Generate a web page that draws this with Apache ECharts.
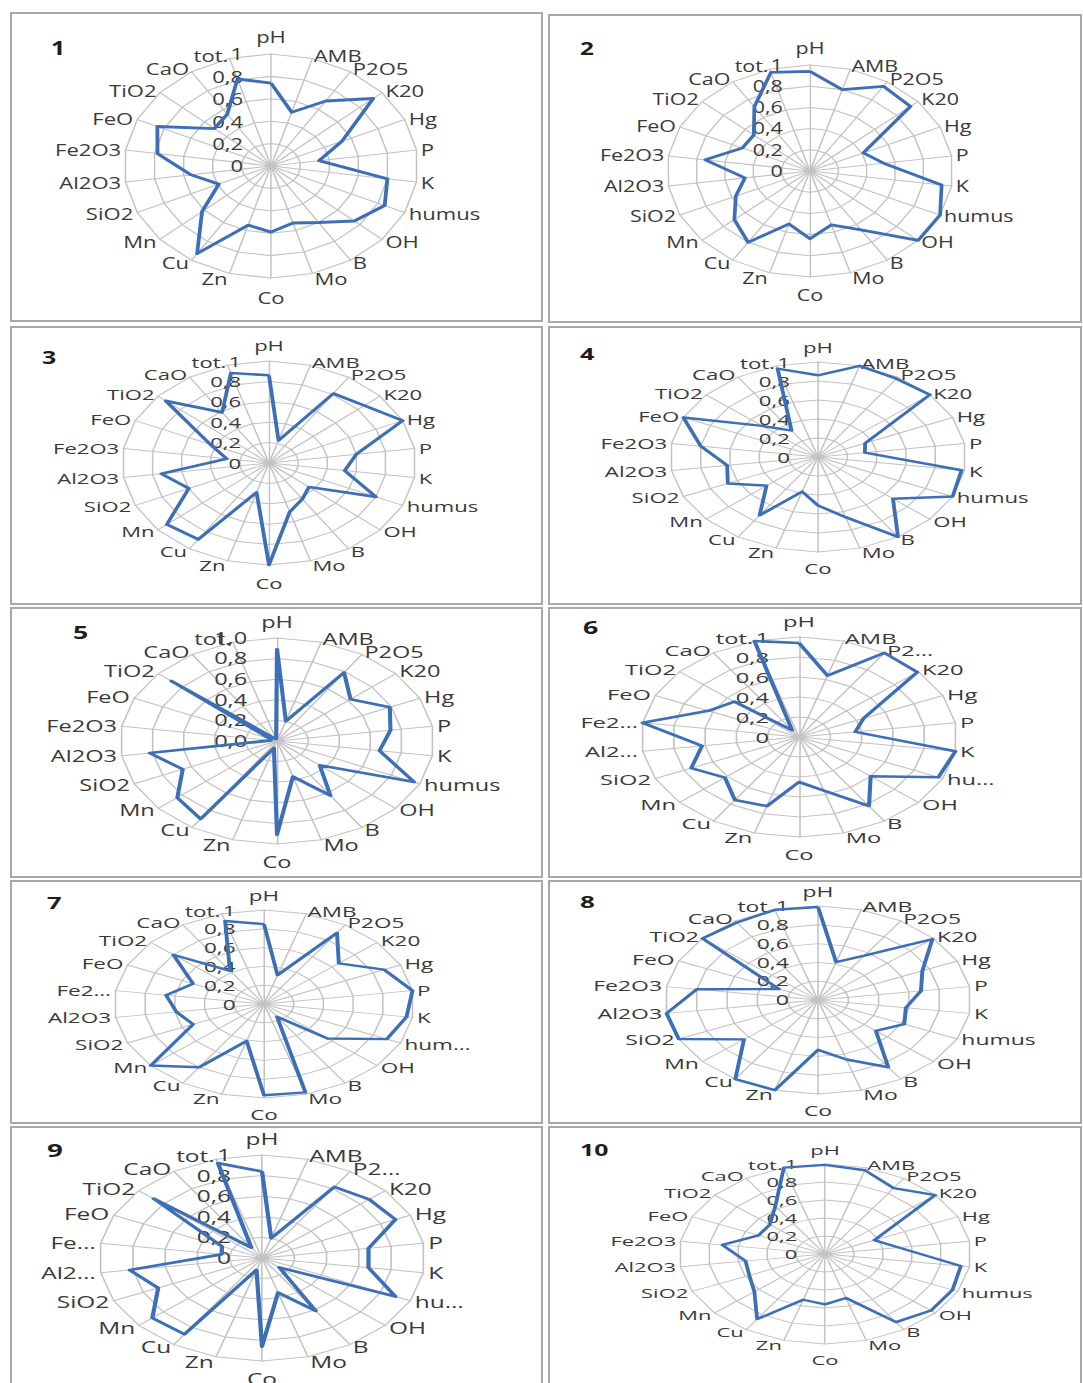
<!DOCTYPE html>
<html><head><meta charset="utf-8">
<script src="https://cdn.jsdelivr.net/npm/echarts@6/dist/echarts.min.js"></script>
<style>
html,body{margin:0;padding:0;background:#fff;width:1083px;height:1383px;overflow:hidden;}
.cell{position:absolute;box-sizing:border-box;border:2px solid #a8a8a8;pointer-events:none;z-index:5;}
.chart{position:absolute;transform-origin:0 0;}
</style></head><body>
<script>
// Categories, clockwise from the top
const categories = ['pH','AMB','P2O5','K20','Hg','P','K','humus','OH','B','Mo','Co','Zn','Cu','Mn','SiO2','Al2O3','Fe2O3','FeO','TiO2','CaO','tot.'];

// Series values (same order as categories)
const values1  = [0.74,0.50,0.69,0.92,0.53,0.33,0.80,0.85,0.75,0.60,0.53,0.59,0.55,0.93,0.62,0.39,0.55,0.78,0.85,0.51,0.55,0.81];
const values2  = [0.94,0.80,0.95,0.93,0.41,0.52,0.93,1.00,1.00,0.66,0.53,0.64,0.52,0.80,0.70,0.57,0.46,0.74,0.52,0.52,0.72,0.97];
const values3  = [0.86,0.23,0.81,0.86,1.00,0.60,0.52,0.80,0.36,0.42,0.50,1.00,0.30,0.89,0.92,0.60,0.74,0.29,0.44,0.93,0.59,0.92];
const values4  = [0.86,1.00,0.98,1.00,0.35,0.32,0.98,1.00,0.67,1.00,0.66,0.51,0.38,0.73,0.46,0.67,0.62,0.80,1.00,0.50,0.33,0.97];
const values5  = [0.90,0.20,0.79,0.62,0.79,0.73,0.66,0.96,0.36,0.63,0.36,0.91,0.07,0.90,0.84,0.66,0.82,0.04,0.05,0.89,0.03,0.02];
const values6  = [0.94,0.64,1.00,0.99,0.45,0.36,1.00,0.97,0.60,0.82,0.56,0.45,0.72,0.75,0.62,0.75,0.62,1.00,0.63,0.54,0.08,1.00];
const values7  = [0.85,0.32,0.90,0.66,0.88,1.00,0.96,0.90,0.56,0.16,0.98,0.97,0.41,0.80,1.00,0.52,0.59,0.66,0.52,0.80,0.42,0.92];
const values8  = [0.99,0.42,0.56,0.99,0.75,0.68,0.58,0.62,0.50,0.85,0.66,0.53,1.00,1.00,0.64,1.00,1.00,0.80,0.28,1.00,0.98,1.00];
const values9  = [0.84,0.20,0.82,0.87,0.90,0.66,0.66,0.90,0.14,0.61,0.35,0.86,0.12,0.88,0.89,0.70,0.82,0.25,0.27,0.88,0.12,0.96];
const values10 = [0.99,0.97,0.87,1.00,0.37,0.51,0.94,0.96,0.96,0.90,0.51,0.56,0.53,0.86,0.64,0.57,0.55,0.71,0.50,0.50,0.63,1.00];

const chartTitles = ['1','2','3','4','5','6','7','8','9','10'];
const allValues = [values1,values2,values3,values4,values5,values6,values7,values8,values9,values10];

// Tick labels along the first axis
const tickLabels = ['0','0,2','0,4','0,6','0,8','1'];
const tickLabelsOneDecimal = ['0,0','0,2','0,4','0,6','0,8','1,0'];

// Truncated category names in some panels
const labelOverrides = {
  6: {P2O5:'P2…', humus:'hu…', Fe2O3:'Fe2…', Al2O3:'Al2…'},
  7: {humus:'hum…', Fe2O3:'Fe2…'},
  9: {P2O5:'P2…', humus:'hu…', Fe2O3:'Fe…', Al2O3:'Al2…'}
};

// Layout (page pixels): cell box, radar centre, radii of the (stretched) radar, panel number position
const layouts = [
  {cell:[10,12,533,310],  c:[271,166],  rx:147, ry:112, num:[51,42]},
  {cell:[548,14,534,309], c:[810,171],  rx:143, ry:106, num:[580,42]},
  {cell:[10,326,533,279], c:[269,463],  rx:147, ry:102, num:[42,352]},
  {cell:[548,326,534,279],c:[818,457],  rx:148, ry:95,  num:[580,348]},
  {cell:[10,607,533,271], c:[277,741],  rx:157, ry:103, num:[73,627]},
  {cell:[548,607,534,271],c:[799,737],  rx:158, ry:100, num:[583,622]},
  {cell:[10,880,533,244], c:[264,1004], rx:150, ry:94,  num:[47,897]},
  {cell:[548,880,534,244],c:[818,1000], rx:153, ry:94,  num:[580,897]},
  {cell:[10,1126,533,262],c:[262,1258], rx:163, ry:103, num:[47,1145]},
  {cell:[548,1126,534,262],c:[825,1254],rx:146, ry:90,  num:[580,1145]}
];

const R = 100;
const FONT = 'Open Sans';
// ECharts places radar indicators counter-clockwise; Excel goes clockwise.
const order = [0]; for (let i = categories.length - 1; i >= 1; i--) order.push(i);

layouts.forEach((L, k) => {
  const [x, y, w, h] = L.cell;
  const sx = L.rx / R, sy = L.ry / R;
  const border = document.createElement('div');
  border.className = 'cell';
  Object.assign(border.style, {left: x+'px', top: y+'px', width: w+'px', height: h+'px'});
  document.body.appendChild(border);

  const div = document.createElement('div');
  div.className = 'chart';
  const W = w / sx, H = h / sy;
  Object.assign(div.style, {left: x+'px', top: y+'px', width: W+'px', height: H+'px',
    transform: 'scale(' + sx + ',' + sy + ')'});
  document.body.appendChild(div);

  const ov = labelOverrides[k+1] || {};
  const ticks = (k === 4) ? tickLabelsOneDecimal : tickLabels;
  const indicator = order.map(i => {
    const gap = i === 0 ? 8 : (i === 11 ? 10 : ((i === 10 || i === 12) ? 5 : 3));
    return {
      name: ov[categories[i]] || categories[i],
      min: 0, max: 1,
      nameGap: gap,
      axisLabel: {show: i === 0}
    };
  });
  const vals = allValues[k];
  const chart = echarts.init(div, null, {renderer: 'svg', width: W, height: H});
  chart.setOption({
    animation: false,
    textStyle: {fontFamily: FONT},
    title: {
      text: chartTitles[k],
      padding: 0,
      left: (L.num[0] - x) / sx,
      top: (L.num[1] - y) / sy - 3,
      textStyle: {fontSize: 17, fontWeight: 'bold', color: '#1e1e1e', fontFamily: FONT}
    },
    radar: {
      center: [(L.c[0] - x) / sx, (L.c[1] - y) / sy],
      radius: R,
      startAngle: 90,
      splitNumber: 5,
      shape: 'polygon',
      indicator: indicator,
      axisName: {color: '#3a3a3a', fontSize: 15, fontFamily: FONT},
      axisLine: {lineStyle: {color: '#c2c2c2', width: 1}},
      splitLine: {lineStyle: {color: '#c2c2c2', width: 1}},
      splitArea: {show: false},
      axisTick: {show: false},
      axisLabel: {
        show: false, margin: 19, color: '#3a3a3a', fontSize: 15, fontFamily: FONT,
        showMinLabel: true, showMaxLabel: true,
        formatter: function (v) { return ticks[Math.round(v * 5)]; }
      }
    },
    series: [{
      type: 'radar',
      symbol: 'none',
      lineStyle: {color: '#3d6fb6', width: 2.6},
      itemStyle: {color: '#3d6fb6'},
      data: [{value: order.map(i => vals[i])}]
    }]
  });
});
</script>
</body></html>
